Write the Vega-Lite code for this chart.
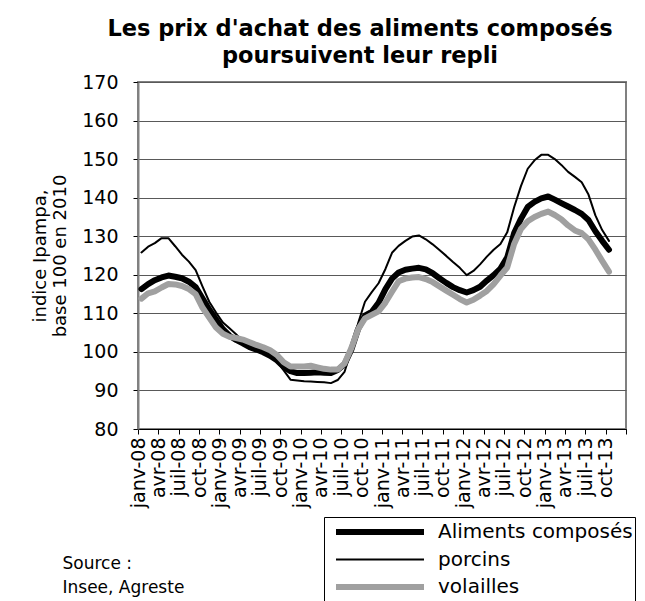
{
  "$schema": "https://vega.github.io/schema/vega-lite/v6.json",
  "width": 488,
  "height": 347,
  "autosize": "none",
  "padding": {"left": 138, "top": 82, "right": 19, "bottom": 172},
  "background": "white",
  "config": {
    "view": {"stroke": "#808080", "strokeWidth": 2}
  },
  "title": {
    "text": ["Les prix d'achat des aliments composés", "poursuivent leur repli"],
    "font": "DejaVu Sans",
    "fontSize": 22.5,
    "fontWeight": "bold",
    "color": "black",
    "anchor": "middle",
    "dx": -22,
    "offset": 6,
    "lineHeight": 27
  },
  "data": {
    "values": [
      {"mois": "2008-01-01", "Aliments composés": 116.3, "porcins": 125.8, "volailles": 113.8},
      {"mois": "2008-02-01", "Aliments composés": 117.6, "porcins": 127.3, "volailles": 115.2},
      {"mois": "2008-03-01", "Aliments composés": 118.6, "porcins": 128.2, "volailles": 115.7},
      {"mois": "2008-04-01", "Aliments composés": 119.3, "porcins": 129.5, "volailles": 116.7},
      {"mois": "2008-05-01", "Aliments composés": 119.8, "porcins": 129.5, "volailles": 117.6},
      {"mois": "2008-06-01", "Aliments composés": 119.5, "porcins": 127.4, "volailles": 117.5},
      {"mois": "2008-07-01", "Aliments composés": 119.1, "porcins": 125.2, "volailles": 117.1},
      {"mois": "2008-08-01", "Aliments composés": 118.2, "porcins": 123.4, "volailles": 116.3},
      {"mois": "2008-09-01", "Aliments composés": 116.8, "porcins": 121.2, "volailles": 115.0},
      {"mois": "2008-10-01", "Aliments composés": 113.9, "porcins": 117.0, "volailles": 111.5},
      {"mois": "2008-11-01", "Aliments composés": 111.0, "porcins": 113.0, "volailles": 108.9},
      {"mois": "2008-12-01", "Aliments composés": 108.4, "porcins": 110.2, "volailles": 106.3},
      {"mois": "2009-01-01", "Aliments composés": 105.9, "porcins": 107.6, "volailles": 104.7},
      {"mois": "2009-02-01", "Aliments composés": 104.2, "porcins": 106.1, "volailles": 103.9},
      {"mois": "2009-03-01", "Aliments composés": 103.1, "porcins": 104.6, "volailles": 103.6},
      {"mois": "2009-04-01", "Aliments composés": 102.2, "porcins": 102.7, "volailles": 103.2},
      {"mois": "2009-05-01", "Aliments composés": 101.2, "porcins": 101.7, "volailles": 102.5},
      {"mois": "2009-06-01", "Aliments composés": 100.6, "porcins": 100.8, "volailles": 101.8},
      {"mois": "2009-07-01", "Aliments composés": 99.9, "porcins": 99.8, "volailles": 101.2},
      {"mois": "2009-08-01", "Aliments composés": 99.0, "porcins": 98.8, "volailles": 100.4},
      {"mois": "2009-09-01", "Aliments composés": 97.8, "porcins": 97.6, "volailles": 99.2},
      {"mois": "2009-10-01", "Aliments composés": 96.1, "porcins": 95.2, "volailles": 97.3},
      {"mois": "2009-11-01", "Aliments composés": 95.0, "porcins": 92.8, "volailles": 96.2},
      {"mois": "2009-12-01", "Aliments composés": 94.5, "porcins": 92.6, "volailles": 96.2},
      {"mois": "2010-01-01", "Aliments composés": 94.5, "porcins": 92.4, "volailles": 96.2},
      {"mois": "2010-02-01", "Aliments composés": 94.6, "porcins": 92.3, "volailles": 96.4},
      {"mois": "2010-03-01", "Aliments composés": 94.7, "porcins": 92.2, "volailles": 96.0},
      {"mois": "2010-04-01", "Aliments composés": 94.6, "porcins": 92.1, "volailles": 95.6},
      {"mois": "2010-05-01", "Aliments composés": 94.5, "porcins": 91.9, "volailles": 95.4},
      {"mois": "2010-06-01", "Aliments composés": 95.3, "porcins": 92.7, "volailles": 95.4},
      {"mois": "2010-07-01", "Aliments composés": 96.8, "porcins": 94.8, "volailles": 97.0},
      {"mois": "2010-08-01", "Aliments composés": 100.6, "porcins": 100.5, "volailles": 101.0},
      {"mois": "2010-09-01", "Aliments composés": 106.0, "porcins": 107.5, "volailles": 105.9},
      {"mois": "2010-10-01", "Aliments composés": 109.4, "porcins": 113.0, "volailles": 108.7},
      {"mois": "2010-11-01", "Aliments composés": 110.4, "porcins": 115.5, "volailles": 109.6},
      {"mois": "2010-12-01", "Aliments composés": 112.7, "porcins": 117.8, "volailles": 110.5},
      {"mois": "2011-01-01", "Aliments composés": 116.3, "porcins": 121.5, "volailles": 112.8},
      {"mois": "2011-02-01", "Aliments composés": 119.0, "porcins": 125.7, "volailles": 115.6},
      {"mois": "2011-03-01", "Aliments composés": 120.6, "porcins": 127.5, "volailles": 118.3},
      {"mois": "2011-04-01", "Aliments composés": 121.3, "porcins": 128.8, "volailles": 119.0},
      {"mois": "2011-05-01", "Aliments composés": 121.6, "porcins": 129.9, "volailles": 119.3},
      {"mois": "2011-06-01", "Aliments composés": 121.8, "porcins": 130.2, "volailles": 119.4},
      {"mois": "2011-07-01", "Aliments composés": 121.4, "porcins": 129.2, "volailles": 118.9},
      {"mois": "2011-08-01", "Aliments composés": 120.4, "porcins": 127.9, "volailles": 118.1},
      {"mois": "2011-09-01", "Aliments composés": 119.1, "porcins": 126.4, "volailles": 117.0},
      {"mois": "2011-10-01", "Aliments composés": 117.9, "porcins": 124.9, "volailles": 115.9},
      {"mois": "2011-11-01", "Aliments composés": 116.8, "porcins": 123.3, "volailles": 114.8},
      {"mois": "2011-12-01", "Aliments composés": 116.0, "porcins": 121.8, "volailles": 113.7},
      {"mois": "2012-01-01", "Aliments composés": 115.4, "porcins": 119.9, "volailles": 112.8},
      {"mois": "2012-02-01", "Aliments composés": 116.0, "porcins": 121.0, "volailles": 113.5},
      {"mois": "2012-03-01", "Aliments composés": 116.9, "porcins": 122.7, "volailles": 114.6},
      {"mois": "2012-04-01", "Aliments composés": 118.5, "porcins": 124.7, "volailles": 115.8},
      {"mois": "2012-05-01", "Aliments composés": 119.9, "porcins": 126.5, "volailles": 117.6},
      {"mois": "2012-06-01", "Aliments composés": 121.6, "porcins": 128.0, "volailles": 119.8},
      {"mois": "2012-07-01", "Aliments composés": 124.5, "porcins": 131.0, "volailles": 121.9},
      {"mois": "2012-08-01", "Aliments composés": 130.8, "porcins": 137.5, "volailles": 128.0},
      {"mois": "2012-09-01", "Aliments composés": 134.5, "porcins": 143.0, "volailles": 131.9},
      {"mois": "2012-10-01", "Aliments composés": 137.6, "porcins": 147.5, "volailles": 133.9},
      {"mois": "2012-11-01", "Aliments composés": 138.9, "porcins": 149.7, "volailles": 135.0},
      {"mois": "2012-12-01", "Aliments composés": 139.8, "porcins": 151.1, "volailles": 135.8},
      {"mois": "2013-01-01", "Aliments composés": 140.3, "porcins": 151.1, "volailles": 136.4},
      {"mois": "2013-02-01", "Aliments composés": 139.5, "porcins": 150.0, "volailles": 135.5},
      {"mois": "2013-03-01", "Aliments composés": 138.6, "porcins": 148.5, "volailles": 134.4},
      {"mois": "2013-04-01", "Aliments composés": 137.7, "porcins": 146.7, "volailles": 132.8},
      {"mois": "2013-05-01", "Aliments composés": 136.8, "porcins": 145.4, "volailles": 131.5},
      {"mois": "2013-06-01", "Aliments composés": 135.8, "porcins": 144.0, "volailles": 130.8},
      {"mois": "2013-07-01", "Aliments composés": 134.2, "porcins": 140.8, "volailles": 129.2},
      {"mois": "2013-08-01", "Aliments composés": 131.3, "porcins": 135.4, "volailles": 126.5},
      {"mois": "2013-09-01", "Aliments composés": 128.8, "porcins": 131.6, "volailles": 123.6},
      {"mois": "2013-10-01", "Aliments composés": 126.5, "porcins": 128.8, "volailles": 120.8}
    ]
  },
  "transform": [
    {"fold": ["Aliments composés", "porcins", "volailles"], "as": ["serie", "indice"]}
  ],
  "mark": {"type": "line", "strokeJoin": "round", "strokeCap": "round"},
  "encoding": {
    "x": {
      "field": "mois",
      "type": "temporal",
      "timeUnit": "utcyearmonth",
      "bandPosition": 0.5,
      "scale": {
        "type": "utc",
        "domain": [
          {"year": 2008, "month": 1, "date": 1, "utc": true},
          {"year": 2014, "month": 1, "date": 1, "utc": true}
        ]
      },
      "axis": {
        "tickCount": {"interval": "month", "step": 3},
        "labelExpr": "utcyear(datum.value) >= 2014 ? '' : ['janv','févr','mars','avr','mai','juin','juil','août','sept','oct','nov','déc'][utcmonth(datum.value)] + '-' + utcFormat(datum.value, '%y')",
        "labelAngle": -90,
        "labelAlign": "right",
        "labelBaseline": "middle",
        "labelFont": "DejaVu Sans",
        "labelFontSize": 19,
        "labelColor": "black",
        "labelPadding": 3,
        "labelOverlap": false,
        "labelFlush": false,
        "labelBound": false,
        "tickSize": 5,
        "tickColor": "black",
        "domainColor": "black",
        "domainWidth": 1,
        "grid": false,
        "title": ["Source :", "Insee, Agreste"],
        "titleFont": "DejaVu Sans",
        "titleFontSize": 17,
        "titleFontWeight": "normal",
        "titleColor": "black",
        "titleAnchor": "start",
        "titleAlign": "left",
        "titleBaseline": "top",
        "titleX": -76,
        "titleY": 126,
        "titleLineHeight": 24
      }
    },
    "y": {
      "field": "indice",
      "type": "quantitative",
      "scale": {"domain": [80, 170], "nice": false, "zero": false},
      "axis": {
        "values": [80, 90, 100, 110, 120, 130, 140, 150, 160, 170],
        "grid": true,
        "gridColor": "#595959",
        "gridWidth": 1,
        "domainColor": "#808080",
        "domainWidth": 2,
        "tickColor": "black",
        "tickSize": 5,
        "labelFont": "DejaVu Sans",
        "labelFontSize": 19,
        "labelColor": "black",
        "labelPadding": 15,
        "title": ["indice Ipampa,", "base 100 en 2010"],
        "titleFont": "DejaVu Sans",
        "titleFontSize": 18,
        "titleFontWeight": "normal",
        "titleColor": "black",
        "titlePadding": 12,
        "titleLineHeight": 20
      }
    },
    "color": {
      "field": "serie",
      "type": "nominal",
      "scale": {"domain": ["Aliments composés", "porcins", "volailles"], "range": ["#000000", "#000000", "#a0a0a0"]},
      "legend": {
        "title": null,
        "orient": "none",
        "legendX": 186,
        "legendY": 435,
        "symbolType": "stroke",
        "symbolSize": 7744,
        "clipHeight": 26,
        "rowPadding": 1.5,
        "symbolOffset": 44,
        "labelOffset": 48,
        "labelLimit": 0,
        "labelFont": "DejaVu Sans",
        "labelFontSize": 20,
        "labelColor": "black",
        "strokeColor": "black",
        "fillColor": "white",
        "padding": 2,
        "encode": {
          "symbols": {
            "update": {
              "strokeWidth": {"signal": "datum.value === 'porcins' ? 2 : 6"}
            }
          }
        }
      }
    },
    "strokeWidth": {
      "condition": {"test": "datum.serie === 'porcins'", "value": 2},
      "value": 6
    }
  }
}
